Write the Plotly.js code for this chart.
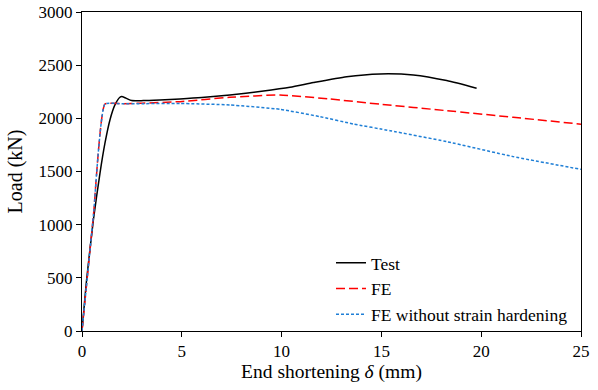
<!DOCTYPE html>
<html>
<head>
<meta charset="utf-8">
<script src="https://cdn.plot.ly/plotly-3.0.1.min.js"></script>
<style>
html,body{margin:0;padding:0;background:#fff;}
#chart{width:598px;height:390px;}
</style>
</head>
<body>
<div id="chart"></div>
<script>
// Test curve
const testX = [0, 0.23, 0.57, 0.9, 1.15, 1.4, 1.65, 1.9, 1.99, 2.2, 2.49, 3.07, 3.9, 4.91, 6.0, 7.41, 9.0, 10.42, 11.59, 13.26, 14.93, 16.6, 18.27, 19.77];
const testY = [0, 480, 1044, 1483, 1766, 1985, 2126, 2198, 2205, 2190, 2167, 2167, 2173, 2182, 2195, 2220, 2255, 2292, 2336, 2392, 2418, 2408, 2355, 2283];
// FE
const feX = [0, 0.57, 1.15, 2.0, 3.0, 4.91, 7.41, 9.92, 12.42, 14.93, 18.27, 21.6, 25];
const feY = [0, 1080, 2135, 2138, 2142, 2157, 2198, 2220, 2182, 2133, 2072, 2010, 1945];
// FE without strain hardening
const fenX = [0, 0.57, 1.15, 2.0, 3.0, 4.91, 7.41, 9.92, 11.92, 13.59, 15.43, 18.27, 21.6, 25];
const fenY = [0, 1080, 2135, 2137, 2138, 2140, 2126, 2085, 2016, 1947, 1884, 1781, 1640, 1520];
const names = ["Test", "FE", "FE without strain hardening"];

const traces = [
  {x: testX, y: testY, name: names[0], legendgroup: 'a', type: 'scatter', mode: 'lines',
   line: {color: '#000000', width: 1.5, shape: 'spline', smoothing: 0.6}},
  {x: feX, y: feY, name: names[1], legendgroup: 'b', type: 'scatter', mode: 'lines',
   line: {color: '#ff0000', width: 1.5, dash: '9px,4px', shape: 'spline', smoothing: 0.4}},
  {x: fenX, y: fenY, name: names[2], legendgroup: 'c', type: 'scatter', mode: 'lines',
   line: {color: '#1f7fd6', width: 1.5, dash: '3px,2px', shape: 'spline', smoothing: 0.4}}
];

const fam = 'Liberation Serif';
const layout = {
  width: 598, height: 390,
  margin: {l: 82, r: 17, t: 12, b: 59},
  paper_bgcolor: '#fff', plot_bgcolor: '#fff',
  font: {family: fam, color: '#000', size: 17},
  showlegend: true,
  legend: {x: 0.499, y: 0.27, xanchor: 'left', yanchor: 'top', bgcolor: 'rgba(0,0,0,0)',
           font: {family: fam, size: 17.5, color: '#000'}, tracegroupgap: 0},
  xaxis: {range: [0, 25], tickvals: [0, 5, 10, 15, 20, 25], showgrid: false, zeroline: false,
          showline: true, mirror: true, linecolor: '#000', linewidth: 1,
          ticks: 'outside', ticklen: 5, tickcolor: '#000', tickfont: {family: fam, size: 17, color: '#000'},
          title: {text: 'End shortening <i>δ</i> (mm)', font: {family: fam, size: 19.5, color: '#000'}, standoff: 2}},
  yaxis: {range: [0, 3000], tickvals: [0, 500, 1000, 1500, 2000, 2500, 3000], showgrid: false, zeroline: false,
          showline: true, mirror: true, linecolor: '#000', linewidth: 1,
          ticks: 'outside', ticklen: 5, tickcolor: '#000', tickfont: {family: fam, size: 17, color: '#000'},
          title: {text: 'Load (kN)', font: {family: fam, size: 20, color: '#000'}, standoff: 10}}
};
Plotly.newPlot('chart', traces, layout, {displayModeBar: false, staticPlot: true});
</script>
</body>
</html>
